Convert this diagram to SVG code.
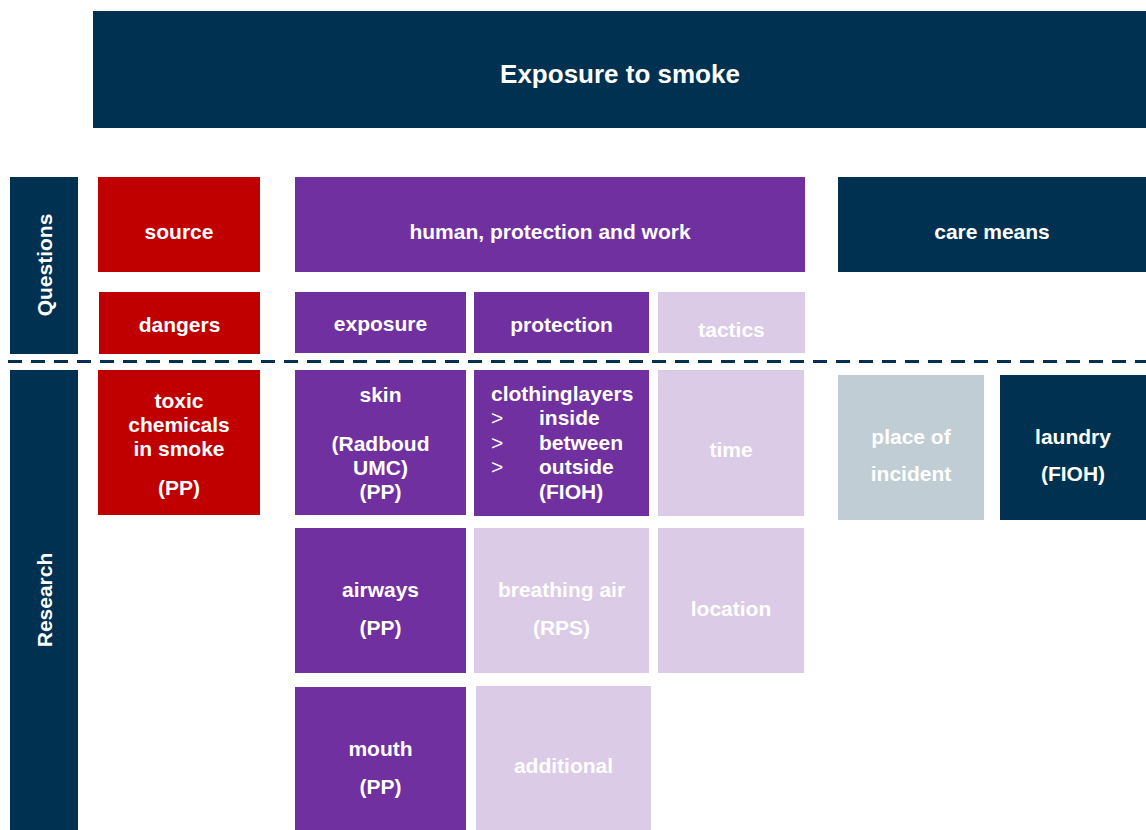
<svg xmlns="http://www.w3.org/2000/svg" width="1146" height="830" viewBox="0 0 1146 830">
<style>
text{font-family:"Liberation Sans",Arial,sans-serif;font-weight:bold;font-size:21px;fill:#fff;text-anchor:middle}
.navy{fill:#003150}.red{fill:#C00000}.purple{fill:#7030A0}.lav{fill:#DCCBE6}.grey{fill:#C0CDD5}
.l{text-anchor:start}
</style>
<rect width="1146" height="830" fill="#fff"/>
<g id="title"><rect class="navy" x="93" y="11" width="1053" height="117"/><text x="620" y="83" style="font-size:26px">Exposure to smoke</text></g>
<g id="questions"><rect class="navy" x="10" y="177" width="68" height="177"/><text transform="translate(52,265) rotate(-90)">Questions</text></g>
<g id="research"><rect class="navy" x="10" y="370" width="68" height="460"/><text transform="translate(52,600) rotate(-90)">Research</text></g>
<g id="source"><rect class="red" x="98" y="177" width="162" height="95"/><text x="179" y="239">source</text></g>
<g id="dangers"><rect class="red" x="99" y="292" width="161" height="62"/><text x="179.5" y="332">dangers</text></g>
<g id="human"><rect class="purple" x="295" y="177" width="510" height="95"/><text x="550" y="239">human, protection and work</text></g>
<g id="care"><rect class="navy" x="838" y="177" width="308" height="95"/><text x="992" y="239">care means</text></g>
<g id="exposure"><rect class="purple" x="295" y="292" width="171" height="61"/><text x="380.5" y="331">exposure</text></g>
<g id="protection"><rect class="purple" x="474" y="292" width="175" height="61"/><text x="561.5" y="332">protection</text></g>
<g id="tactics"><rect class="lav" x="658" y="292" width="147" height="61"/><text x="731.5" y="337">tactics</text></g>
<g id="connectors"><line x1="8" y1="361.5" x2="1146" y2="361.5" stroke="#003150" stroke-width="3" stroke-dasharray="14 9"/></g>
<g id="toxic"><rect class="red" x="98" y="370" width="162" height="145"/><text x="179" y="408">toxic</text><text x="179" y="432">chemicals</text><text x="179" y="456">in smoke</text><text x="179" y="495">(PP)</text></g>
<g id="skin"><rect class="purple" x="295" y="370" width="171" height="145"/><text x="380.5" y="402">skin</text><text x="380.5" y="451">(Radboud</text><text x="380.5" y="475">UMC)</text><text x="380.5" y="499">(PP)</text></g>
<g id="clothing"><rect class="purple" x="474" y="370" width="175" height="146"/><text class="l" x="491" y="401">clothinglayers</text><text class="l" x="491" y="425" style="font-weight:normal">&gt;</text><text class="l" x="539" y="425">inside</text><text class="l" x="491" y="450" style="font-weight:normal">&gt;</text><text class="l" x="539" y="450">between</text><text class="l" x="491" y="474" style="font-weight:normal">&gt;</text><text class="l" x="539" y="474">outside</text><text class="l" x="539" y="499">(FIOH)</text></g>
<g id="time"><rect class="lav" x="658" y="370" width="146" height="146"/><text x="731" y="457">time</text></g>
<g id="place"><rect class="grey" x="838" y="375" width="146" height="145"/><text x="911" y="444">place of</text><text x="911" y="481">incident</text></g>
<g id="laundry"><rect class="navy" x="1000" y="375" width="146" height="145"/><text x="1073" y="444">laundry</text><text x="1073" y="481">(FIOH)</text></g>
<g id="airways"><rect class="purple" x="295" y="528" width="171" height="145"/><text x="380.5" y="597">airways</text><text x="380.5" y="635">(PP)</text></g>
<g id="breathing"><rect class="lav" x="474" y="528" width="175" height="145"/><text x="561.5" y="597">breathing air</text><text x="561.5" y="635">(RPS)</text></g>
<g id="location"><rect class="lav" x="658" y="528" width="146" height="145"/><text x="731" y="616">location</text></g>
<g id="mouth"><rect class="purple" x="295" y="687" width="171" height="143"/><text x="380.5" y="756">mouth</text><text x="380.5" y="794">(PP)</text></g>
<g id="additional"><rect class="lav" x="476" y="686" width="175" height="144"/><text x="563.5" y="773">additional</text></g>
</svg>
